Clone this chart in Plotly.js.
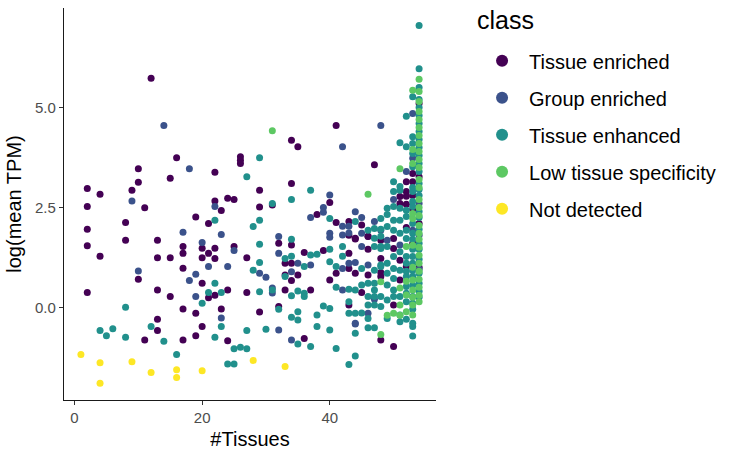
<!DOCTYPE html>
<html>
<head>
<meta charset="utf-8">
<script src="https://cdn.plot.ly/plotly-3.0.1.min.js"></script>
<style>
  html, body { margin: 0; padding: 0; background: #ffffff; }
  #chart { width: 732px; height: 453px; }
</style>
</head>
<body>
<div id="chart"></div>
<script>
// Class labels, in legend order
const classNames = ["Tissue enriched", "Group enriched", "Tissue enhanced", "Low tissue specificity", "Not detected"];
const classColors = ["#440154", "#3B528B", "#21908C", "#5DC863", "#FDE725"];

// Tissue enriched genes: number of tissues vs log(mean TPM)
const enrichedX = [12,2,2,2,2,2,4,4,9,10,10,8,8,11,10,16,15,13,13,15,15,13,13,13,11,17,17,17,17,17,19,19,19,20,20,20,20,21,21,21,22,22,22,22,22,23,23,24,25,24,24,26,26,26,25,27,27,
  41,34,35,47,34,29,31,29,40,38,41,43,45,44,46,32,34,43,44,46,46,43,36,39,33,34,33,35,43,44,46,48,41,40,34,33,37,45,43,32,29,36,48,50,50,
  53,54,52,53,52,51,52,53,51,52,50,53,48,50,48,51,52,48,51,54,54,54,53,52];
const enrichedY = [5.73,2.97,2.52,1.95,1.54,0.37,2.83,1.28,2.93,3.13,3.47,2.12,1.68,2.49,0.70,3.74,3.23,1.68,1.24,1.24,0.27,0.43,-0.30,-0.58,-0.82,1.52,1.35,0.98,-0.04,-0.82,2.26,-0.15,-0.71,1.48,1.24,0.60,-0.48,1.35,0.24,2.10,3.38,2.66,1.48,1.22,0.30,2.42,-0.04,2.73,2.70,0.43,-0.84,3.77,3.68,3.60,1.52,1.24,0.37,
  4.55,4.18,4.02,3.57,3.10,2.93,2.56,2.51,2.62,2.32,2.12,2.15,2.06,1.73,1.77,1.60,1.56,1.80,1.71,1.78,1.45,1.35,1.37,1.42,1.10,1.10,0.81,0.81,0.97,0.85,0.81,0.87,0.85,0.68,0.67,0.43,0.43,0.37,0.06,0.02,-0.12,-0.78,-0.82,-0.98,0.06,
  3.35,3.27,3.14,3.14,2.90,2.77,2.78,2.80,2.60,2.58,1.72,1.60,1.68,1.47,1.22,1.18,1.02,0.77,0.68,2.10,1.00,5.10,2.45,2.00];

// Group enriched genes
const groupX = [14,18,9,10,17,18,19,19,20,21,22,23,23,24,25,
  48,42,40,39,39,37,44,45,47,42,43,40,40,42,43,32,45,45,32,35,37,34,42,43,44,46,42,46,44,32,34,44,29,30,31,31,
  53,53,52,50,48,53,51,54,54,54,49,47];
const groupY = [4.55,3.47,2.66,0.91,1.88,0.67,0.83,0.27,1.62,1.02,2.52,1.82,-0.27,1.02,1.42,
  4.55,4.02,2.81,2.50,2.38,2.25,2.39,2.25,2.15,2.03,2.03,1.85,1.75,1.81,1.86,1.77,1.85,1.52,1.35,1.10,1.06,0.89,0.97,1.10,1.12,1.06,0.43,-0.15,-0.42,-0.57,-0.82,-0.40,0.85,0.75,0.48,0.36,
  4.85,3.73,3.40,2.70,1.93,1.93,1.56,2.60,1.80,0.95,1.68,0.20];

// Tissue enhanced genes
const enhancedX = [8,4,5,6,8,12,14,16,21,20,22,22,22,23,23,25,26,27,24,25,27,27,
  29,37,34,31,29,28,29,29,28,29,31,30,40,44,48,49,49,46,47,48,34,47,48,47,48,42,42,33,34,37,38,40,36,40,41,45,47,48,33,
  35,36,36,34,41,43,44,45,46,46,47,47,47,48,49,43,46,47,48,35,39,40,34,35,38,43,44,45,46,49,38,40,46,47,44,35,37,41,44,43,32,
  48,48,49,49,49,49,49,50,50,50,50,50,50,50,50,50,50,
  51,51,51,51,51,51,51,51,51,51,51,
  52,52,52,52,52,52,52,52,52,52,52,52,52,52,
  53,53,53,53,53,53,53,53,53,53,53,53,53,53,53,53,53,53,53,53,53,53,53,53,
  54,54,54,54,54,54,54,54,54,54,54,54,54,54,54,54,54,54,54,54,54,54,54,54,54,54];
const enhancedY = [0.00,-0.58,-0.71,-0.54,-0.75,-0.48,-0.85,-1.18,0.37,0.10,2.18,0.60,-0.75,-0.48,0.37,-1.04,-1.00,-1.04,-1.42,-1.42,-0.58,3.27,
  3.74,2.93,2.70,2.60,2.18,2.02,1.58,1.12,0.93,0.39,0.43,-0.55,2.22,2.15,2.22,2.32,2.48,1.93,1.97,1.95,1.70,1.73,1.78,1.52,1.52,1.52,1.28,1.22,1.28,1.31,1.33,1.45,1.02,1.14,1.02,0.97,0.93,1.06,0.77,
  0.41,0.35,0.27,0.29,0.50,0.45,0.43,0.56,0.60,0.27,0.60,0.43,0.27,0.27,0.18,0.14,0.06,0.06,0.02,-0.11,0.03,-0.03,-0.25,-0.32,-0.19,-0.15,-0.15,-0.14,-0.28,-0.28,-0.48,-0.57,-0.51,-0.51,-0.65,-0.92,-0.98,-1.03,-1.22,-1.43,-0.05,
  1.47,1.02,2.02,1.52,1.10,0.85,0.56,3.14,2.90,2.52,2.18,1.93,1.27,0.97,0.72,0.43,0.27,
  4.12,3.02,2.93,2.48,2.18,1.85,1.39,0.93,0.27,-0.19,-0.36,
  4.78,4.02,2.43,2.27,1.93,1.72,1.27,0.77,0.52,0.14,1.10,0.90,0.35,-0.30,
  5.27,4.27,4.10,3.85,3.52,2.90,2.52,1.85,1.27,0.93,0.27,-0.48,-0.72,-0.40,3.00,2.65,2.10,1.70,1.45,1.10,0.78,0.55,0.10,-0.05,
  7.05,5.97,5.50,5.20,5.00,4.80,4.60,4.40,4.20,4.00,3.80,3.60,3.40,3.10,2.95,2.80,2.40,2.25,1.95,1.60,1.45,1.20,0.85,0.60,0.40,0.25];

// Low tissue specificity genes
const lowSpecX = [31,46,51,48,49,48,
  53,53,52,53,51,53,52,51,53,50,52,53,51,53,53,53,53,53,53,52,
  54,54,54,54,54,54,54,54,54,54,54,54,54,54,54,54,54,54,54,54,54,54,54,54,54,54,54];
const lowSpecY = [4.42,2.83,3.47,0.64,-0.20,-0.68,
  5.43,2.22,1.52,0.68,0.48,0.43,0.31,0.06,0.06,-0.15,-0.11,-0.19,-0.20,3.95,3.60,2.35,1.55,1.00,0.25,0.65,
  5.71,5.40,5.15,4.90,4.70,4.50,4.30,4.10,3.90,3.70,3.50,3.20,3.00,2.70,2.50,2.30,2.05,1.85,1.70,1.50,1.30,1.10,0.90,0.70,0.50,0.30,0.14];

// Not detected genes
const notDetX = [1,4,4,9,12,16,16,20,28,33];
const notDetY = [-1.18,-1.39,-1.90,-1.36,-1.63,-1.56,-1.76,-1.59,-1.33,-1.48];

const seriesX = [enrichedX, groupX, enhancedX, lowSpecX, notDetX];
const seriesY = [enrichedY, groupY, enhancedY, lowSpecY, notDetY];

const traces = classNames.map((name, i) => ({
  type: "scatter",
  mode: "markers",
  name: name,
  x: seriesX[i],
  y: seriesY[i],
  legendgroup: "g" + i,
  marker: { color: classColors[i], size: 7, line: { width: 0 } },
  hoverinfo: "x+y+name"
}));

const fontFamily = "Liberation Sans, Arial, sans-serif";
const tickFont = { family: fontFamily, size: 15, color: "#4D4D4D" };
const titleFont = { family: fontFamily, size: 20, color: "#000000" };

const layout = {
  width: 732,
  height: 453,
  margin: { l: 64, r: 296, t: 8, b: 53 },
  paper_bgcolor: "#ffffff",
  plot_bgcolor: "#ffffff",
  font: { family: fontFamily },
  showlegend: true,
  xaxis: {
    range: [-1.65, 56.65],
    tickmode: "array",
    tickvals: [0, 20, 40],
    ticktext: ["0", "20", "40"],
    showgrid: false,
    zeroline: false,
    showline: true,
    linecolor: "#1a1a1a",
    linewidth: 1.2,
    ticks: "outside",
    ticklen: 4,
    tickwidth: 1.1,
    tickcolor: "#333333",
    tickfont: tickFont,
    title: { text: "#Tissues", font: titleFont, standoff: 6 }
  },
  yaxis: {
    range: [-2.32, 7.49],
    tickmode: "array",
    tickvals: [0, 2.5, 5],
    ticktext: ["0.0", "2.5", "5.0"],
    showgrid: false,
    zeroline: false,
    showline: true,
    linecolor: "#1a1a1a",
    linewidth: 1.2,
    ticks: "outside",
    ticklen: 4,
    tickwidth: 1.1,
    tickcolor: "#333333",
    tickfont: tickFont,
    title: { text: "log(mean TPM)", font: titleFont, standoff: 8 }
  },
  // Legend heading drawn separately so it can sit higher above the keys
  annotations: [{
    text: "class",
    xref: "paper", yref: "paper",
    x: 1.105, y: 0.969,
    xanchor: "left", yanchor: "middle",
    showarrow: false,
    font: { family: fontFamily, size: 25, color: "#000000" }
  }],
  legend: {
    x: 1.105,
    xanchor: "left",
    y: 0.915,
    yanchor: "top",
    bgcolor: "rgba(0,0,0,0)",
    font: { family: fontFamily, size: 20, color: "#000000" },
    tracegroupgap: 8,
    itemwidth: 44,
    itemsizing: "constant"
  }
};

Plotly.newPlot("chart", traces, layout, { displayModeBar: false, staticPlot: true });
</script>
</body>
</html>
